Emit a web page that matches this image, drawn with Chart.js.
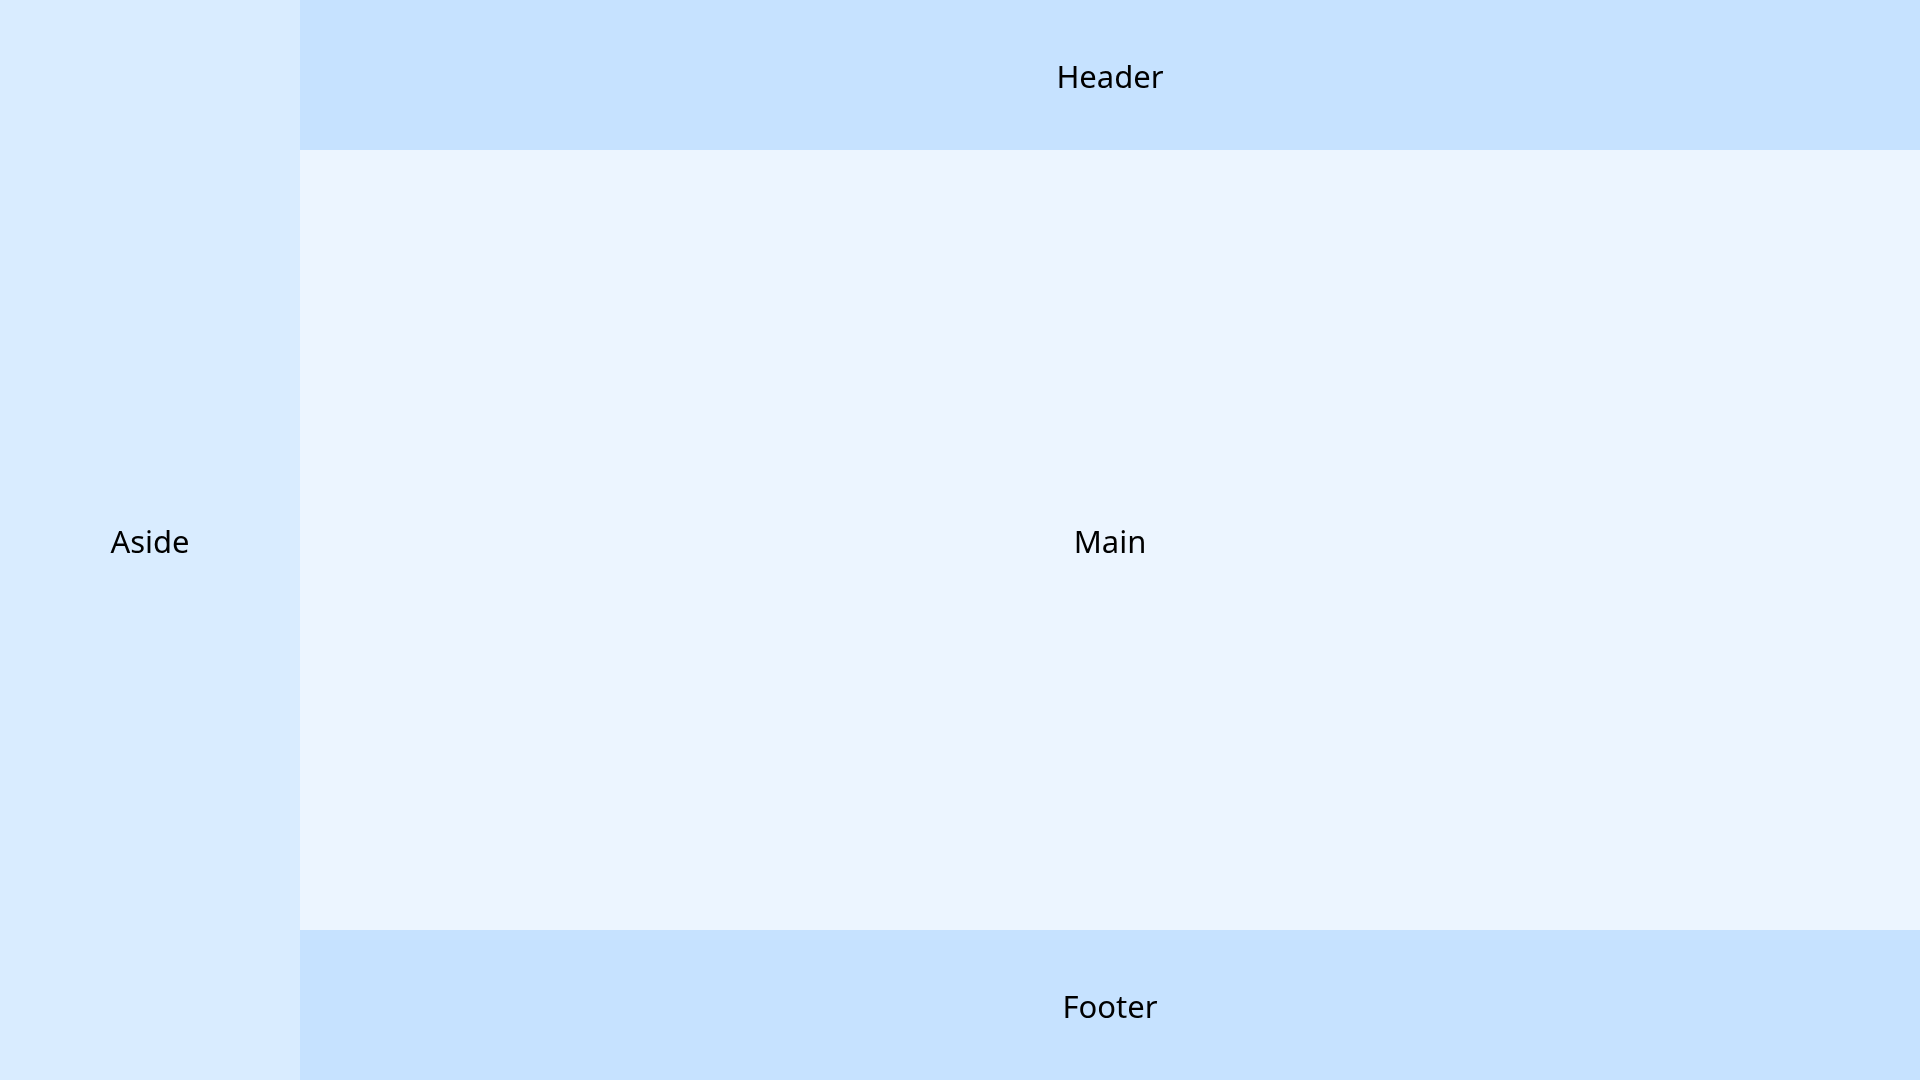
<!DOCTYPE html>
<html>
<head>
<meta charset="utf-8">
<script src="https://cdn.jsdelivr.net/npm/chart.js@4"></script>
<style>
    html, body { margin: 0; padding: 0; background: #ffffff; }
    #wrap { width: 1920px; height: 1080px; }
</style>
</head>
<body>
<div id="wrap"><canvas id="layoutChart"></canvas></div>
<script>
// Layout blocks, in page units (page is 1920 x 1080)
const regionLabels = ['Aside', 'Header', 'Main', 'Footer'];
const regionLeft = [0, 300, 300, 300];
const regionRight = [300, 1920, 1920, 1920];
const regionTop = [0, 0, 150, 930];
const regionBottom = [1080, 150, 930, 1080];
const regionColors = ['#d9ecff', '#c6e2ff', '#ecf5ff', '#c6e2ff'];

const pageWidth = 1920;
const pageHeight = 1080;

// Each block is a flat line along its top edge, filled down to its bottom edge
const datasets = regionLabels.map(function (label, i) {
    return {
        label: label,
        data: [
            { x: regionLeft[i], y: regionTop[i] },
            { x: regionRight[i], y: regionTop[i] }
        ],
        showLine: true,
        borderWidth: 0,
        borderColor: 'rgba(0,0,0,0)',
        backgroundColor: regionColors[i],
        pointRadius: 0,
        pointHoverRadius: 0,
        fill: { target: { value: regionBottom[i] } }
    };
});

// Write each block's name in its middle
const blockLabels = {
    id: 'blockLabels',
    afterDatasetsDraw(chart) {
        const ctx = chart.ctx;
        const xs = chart.scales.x;
        const ys = chart.scales.y;
        ctx.save();
        ctx.font = '31px "Noto Sans", sans-serif';
        ctx.fillStyle = '#000000';
        ctx.textAlign = 'center';
        ctx.textBaseline = 'middle';
        regionLabels.forEach(function (label, i) {
            const cx = xs.getPixelForValue((regionLeft[i] + regionRight[i]) / 2);
            const cy = ys.getPixelForValue((regionTop[i] + regionBottom[i]) / 2);
            ctx.fillText(label, cx, cy + 4);
        });
        ctx.restore();
    }
};

new Chart(document.getElementById('layoutChart').getContext('2d'), {
    type: 'scatter',
    data: { datasets: datasets },
    options: {
        responsive: true,
        maintainAspectRatio: false,
        animation: false,
        layout: { padding: 0 },
        scales: {
            x: { type: 'linear', min: 0, max: pageWidth, display: false },
            y: { type: 'linear', min: 0, max: pageHeight, reverse: true, display: false }
        },
        plugins: {
            legend: { display: false },
            tooltip: { enabled: false }
        }
    },
    plugins: [blockLabels]
});
</script>
</body>
</html>
